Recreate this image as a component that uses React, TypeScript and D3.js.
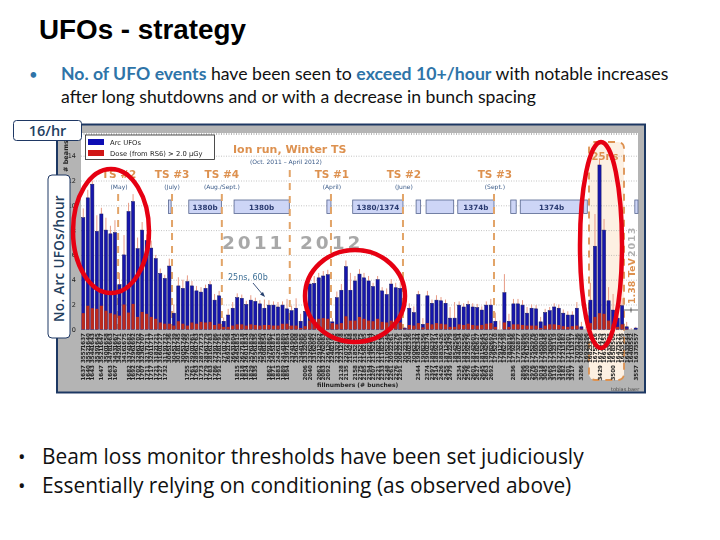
import React, { useEffect, useRef } from "react";
import * as d3 from "d3";

// values, one entry per fill
const arcUfos = [
  9.0, 10.6, 11.7, 7.9, 9.3, 8.0, 7.7, 7.8, 3.6, 6.0,
  9.5, 10.3, 6.5, 8.0, 7.15, 6.55, 5.7, 4.5, 4.1, 5.1,
  1.3, 3.5, 3.3, 3.85, 3.5, 3.1, 3.0, 3.3, 3.6, 2.35,
  2.7, 0.65, 1.15, 1.7, 2.55, 2.5, 2.0, 2.35, 2.25, 2.05,
  1.7, 1.95, 1.95, 1.8, 1.95, 1.65, 1.5, 1.7, 0.65, 1.45,
  3.65, 3.7, 4.15, 4.3, 4.4, 0.6, 2.55, 3.15, 5.05, 3.15,
  3.9, 4.45, 4.15, 3.9, 3.45, 4.0, 3.1, 2.8, 3.65, 3.35,
  3.3, 0.1, 1.7, 1.35, 2.8, 0.4, 2.7, 2.1, 2.35, 2.3,
  2.1, 0.9, 0.9, 1.95, 1.8, 2.0, 1.8, 1.75, 1.55, 1.95,
  1.95, 0.65, 0, 2.95, 0.65, 2.05, 2.05, 1.95, 1.3, 1.7,
  1.65, 0.6, 1.35, 1.5, 1.8, 1.7, 1.3, 1.15, 1.15, 1.7,
  0.2, 0, 2.35, 6.7, 13.25, 8.0, 2.3, 1.55, 0.9, 1.9,
  0.2, 0, 0.1,
];

const doseUfos = [
  1.3, 1.9, 1.7, 1.65, 1.9, 1.5, 1.3, 1.2, 1.1, 2.0,
  1.35, 2.05, 1.0, 1.4, 1.25, 1.0, 0.85, 0.55, 0.45, 0.45,
  0.3, 0.65, 0.45, 0.3, 0.55, 0.45, 0.6, 0.55, 0.6, 0.35,
  0.45, 0.2, 0.2, 0.3, 0.4, 0.4, 0.3, 0.4, 0.35, 0.3,
  0.35, 0.35, 0.3, 0.3, 0.45, 0.45, 0.3, 0.3, 0.1, 0.25,
  0.7, 0.8, 0.85, 0.9, 0.85, 0.5, 0.4, 0.5, 1.05, 0.7,
  0.7, 1.0, 0.85, 0.7, 0.65, 0.85, 0.6, 0.55, 0.7, 0.6,
  0.55, 0.05, 0.35, 0.3, 0.5, 0.15, 0.5, 0.4, 0.5, 0.45,
  0.4, 0.2, 0.2, 0.4, 0.35, 0.45, 0.35, 0.3, 0.35, 0.45,
  0.5, 0.2, 0, 0.55, 0.2, 0.4, 0.4, 0.35, 0.3, 0.3,
  0.3, 0.1, 0.3, 0.4, 0.4, 0.35, 0.25, 0.2, 0.25, 0.3,
  0.05, 0, 0.5, 1.0, 1.3, 1.25, 0.7, 0.4, 0.2, 0.4,
  0.05, 0, 0,
];

const errorUp = [
  0.75, 0.65, 0.3, 1.3, 0.5, 1.0, 0.65, 1.0, 0.95, 1.6,
  0.7, 0.6, 0.9, 0.65, 0.5, 0.6, 0.3, 0.4, 0.3, 0.6,
  0.7, 0.7, 0.7, 0.5, 0.4, 0.4, 0.4, 0.3, 0.3, 0.5,
  0.4, 0.3, 0.5, 0.5, 0.35, 0.3, 0.3, 0.4, 0.3, 0.3,
  0.7, 0.4, 0.3, 0.4, 0.3, 0.8, 0.4, 0.8, 0.6, 0.5,
  0.5, 0.6, 0.4, 0.4, 0.4, 0.3, 0.5, 0.5, 0.5, 1.4,
  0.4, 0.4, 0.4, 0.4, 0.3, 0.3, 0.3, 0.5, 0.4, 0.4,
  0.5, 0.1, 0.4, 0.5, 0.3, 0.5, 0.4, 0.3, 0.4, 0.3,
  0.3, 0.9, 1.3, 0.3, 0.3, 0.3, 0.3, 0.3, 0.3, 0.3,
  0.5, 0.7, 0.7, 1.5, 0.6, 0.4, 0.4, 0.4, 0.5, 0.3,
  0.3, 0.4, 0.3, 0.3, 0.3, 0.3, 0.3, 0.3, 0.3, 0.5,
  0.4, 0.2, 1.4, 2.6, 0.5, 0.9, 1.1, 1.3, 0.4, 0.6,
  0.4, 0.1, 0.1,
];

const fillNumbers = [
  "1637", "1640", "1643", "1645", "1647", "1658", "1663", "1667", "1671", "1675",
  "1682", "1692", "1702", "1707", "1711", "1717", "1721", "1727", "1732", "1736",
  "1739", "1745", "1749", "1755", "1761", "1763", "1773", "1779", "1783", "1786",
  "1791", "1795", "1798", "1804", "1815", "1818", "1824", "1829", "1835", "1840",
  "1854", "1862", "1871", "1883", "1889", "1894", "1900", "1908", "1985", "2006",
  "2040", "2052", "2062", "2083", "2092", "2105", "2118", "2128", "2135", "2148",
  "2158", "2175", "2185", "2194", "2207", "2221", "2233", "2248", "2261", "2276",
  "2291", "2316", "2326", "2332", "2344", "2356", "2374", "2397", "2414", "2426",
  "2455", "2479", "2508", "2534", "2556", "2576", "2601", "2627", "2645", "2663",
  "2692", "2710", "2728", "2739", "2816", "2836", "2877", "2896", "2920", "2976",
  "3005", "3018", "3045", "3065", "3119", "3160", "3182", "3201", "3217", "3236",
  "3286", "3296", "3374", "3416", "3429", "3453", "3478", "3500", "3521", "3539",
  "3544", "3552", "3557",
];
// fills that carry the extra label in the lower row
const lowerRowFills = [
  0, 1, 2, 4, 6, 7, 10, 11, 12, 13, 14, 15, 16, 17, 18, 23, 24, 25, 26, 27, 28, 29, 30,
  34, 35, 36, 37, 38, 41, 42, 43, 44, 45, 49, 50, 52, 53, 54, 57, 58,
  60, 61, 62, 63, 64, 65, 66, 67, 68, 69, 70, 74, 76, 77, 78, 79, 80, 81,
  83, 84, 85, 86, 87, 88, 89, 90, 95, 97, 98, 99, 100, 101, 102, 103, 104, 105, 106, 107, 108,
  110, 114, 117, 122,
];

const yTicks = [0, 2, 4, 6, 8, 10, 12, 14];

// positions along the axis are in fills, counted from the left of the plot
const shutdownFills = [8.2, 20.1, 31.1, 46.1, 55.2, 71.1, 91.2];
const tsLabels = [
  { name: "TS #2", sub: "(May)", at: 8.4 },
  { name: "TS #3", sub: "(July)", at: 20.1 },
  { name: "TS #4", sub: "(Aug./Sept.)", at: 31.1 },
  { name: "TS #1", sub: "(April)", at: 55.4 },
  { name: "TS #2", sub: "(June)", at: 71.3 },
  { name: "TS #3", sub: "(Sept.)", at: 91.4 },
];
const spacingBoxes = [
  { from: 19.3, to: 19.9, label: "" },
  { from: 23.8, to: 31.0, label: "1380b" },
  { from: 33.8, to: 46.0, label: "1380b" },
  { from: 54.3, to: 55.2, label: "" },
  { from: 60.0, to: 71.1, label: "1380/1374" },
  { from: 74.0, to: 75.0, label: "" },
  { from: 76.2, to: 82.3, label: "" },
  { from: 83.2, to: 91.2, label: "1374b" },
  { from: 94.9, to: 96.1, label: "" },
  { from: 97.0, to: 110.8, label: "1374b" },
  { from: 111.0, to: 111.8, label: "" },
  { from: 122.3, to: 123, label: "" },
];

const navy = "#1f3864";
const orange = "#dd9150";

export default function App() {
  const svgRef = useRef<SVGSVGElement>(null);

  useEffect(() => {
    if (!svgRef.current) return;
    const svg = d3.select(svgRef.current);
    svg.selectAll("*").remove();

    const plot = { left: 81, right: 638, top: 133, bottom: 329.3 };

    const x = d3.scaleBand<number>()
      .domain(d3.range(arcUfos.length))
      .range([plot.left, plot.right])
      .paddingInner(0.3)
      .paddingOuter(0.15);
    const xFill = d3.scaleLinear().domain([0, arcUfos.length]).range([plot.left, plot.right]);
    const y = d3.scaleLinear().domain([0, 14]).range([plot.bottom, plot.bottom - 14 * 12.4]);

    const text = (g: any, px: number, py: number, s: string, size: number, fill: string, family = "'DejaVu Sans'", weight = "normal") =>
      g.append("text")
        .attr("x", px).attr("y", py)
        .attr("font-family", family)
        .attr("font-size", size)
        .attr("font-weight", weight)
        .attr("fill", fill)
        .text(s);

    svg.append("rect").attr("width", 720).attr("height", 540).attr("fill", "#fff");

    // Title and top bullet
    text(svg, 39, 39, "UFOs - strategy", 27.8, "#000", "'Liberation Sans'", "bold");
    text(svg, 29, 80, "•", 15, "#2e74a8", "Lato");
    const line1 = text(svg, 61, 80, "", 17.65, "#111", "Lato");
    line1.append("tspan").attr("fill", "#2e74a8").attr("font-weight", "bold").text("No. of UFO events");
    line1.append("tspan").text(" have been seen to ");
    line1.append("tspan").attr("fill", "#2e74a8").attr("font-weight", "bold").text("exceed 10+/hour");
    line1.append("tspan").text(" with notable increases");
    text(svg, 61, 103, "after long shutdowns and or with a decrease in bunch spacing", 17.65, "#111", "Lato");

    // Screenshot of the chart, slightly soft like the slide
    const defs = svg.append("defs");
    defs.append("filter").attr("id", "soft")
      .append("feGaussianBlur").attr("stdDeviation", 0.35);
    const chart = svg.append("g").attr("filter", "url(#soft)");

    chart.append("rect")
      .attr("x", 57).attr("y", 124.5).attr("width", 588).attr("height", 268)
      .attr("fill", "#b4b4b4").attr("stroke", navy).attr("stroke-width", 2);
    chart.append("rect")
      .attr("x", plot.left).attr("y", plot.top)
      .attr("width", plot.right - plot.left).attr("height", plot.bottom - plot.top)
      .attr("fill", "#fff");

    // 25ns highlight sits under the bars
    chart.append("rect")
      .attr("x", 589).attr("y", 142).attr("width", 35).attr("height", 238).attr("rx", 6)
      .attr("fill", "#fdf0e2").attr("stroke", orange).attr("stroke-width", 1.8)
      .attr("stroke-dasharray", "7,6");

    // Grid
    const yAxis = d3.axisLeft(y).tickValues(yTicks).tickSize(plot.left - plot.right).tickFormat(d3.format("d"));
    const axisG = chart.append("g").attr("transform", `translate(${plot.left},0)`).call(yAxis as any);
    axisG.select(".domain").remove();
    axisG.selectAll("line").attr("stroke", "#9a9a9a").attr("stroke-width", 0.6).attr("stroke-dasharray", "1,1.5");
    axisG.selectAll("text")
      .attr("x", -5).attr("fill", "#222").attr("font-size", 6.5)
      .attr("font-family", "'DejaVu Sans'");
    chart.append("line")
      .attr("x1", plot.left).attr("x2", plot.right).attr("y1", plot.top + 1).attr("y2", plot.top + 1)
      .attr("stroke", "#777").attr("stroke-dasharray", "1,1.5");

    // Bunch spacing boxes
    const boxes = chart.append("g");
    boxes.selectAll("rect").data(spacingBoxes).enter().append("rect")
      .attr("x", d => xFill(d.from))
      .attr("width", d => xFill(d.to) - xFill(d.from))
      .attr("y", 200).attr("height", 13.5)
      .attr("fill", "#cdd5f6").attr("stroke", "#56658f").attr("stroke-width", 0.8);
    boxes.selectAll("text").data(spacingBoxes.filter(d => d.label)).enter().append("text")
      .attr("x", d => (xFill(d.from) + xFill(d.to)) / 2)
      .attr("y", 209.5)
      .attr("text-anchor", "middle")
      .attr("font-family", "'DejaVu Sans'").attr("font-size", 7.2).attr("font-weight", "bold")
      .attr("fill", "#2a3a70")
      .text(d => d.label);

    // Shutdown markers
    chart.selectAll(".ts").data(shutdownFills).enter().append("line")
      .attr("class", "ts")
      .attr("x1", d => xFill(d)).attr("x2", d => xFill(d))
      .attr("y1", (d, i) => (i === 3 ? 170 : 194)).attr("y2", plot.bottom)
      .attr("stroke", "#e2a468").attr("stroke-width", 2).attr("stroke-dasharray", "7,6");

    // Bars
    const idx = d3.range(arcUfos.length);
    const bw = x.bandwidth();
    chart.selectAll(".err").data(idx).enter().append("line")
      .attr("class", "err")
      .attr("x1", i => x(i)! + bw / 2).attr("x2", i => x(i)! + bw / 2)
      .attr("y1", i => y(arcUfos[i])).attr("y2", i => y(arcUfos[i] + errorUp[i]))
      .attr("stroke", "#e79c86").attr("stroke-width", 1);
    chart.selectAll(".arc").data(idx).enter().append("rect")
      .attr("class", "arc")
      .attr("x", i => x(i)!).attr("width", bw)
      .attr("y", i => y(arcUfos[i]))
      .attr("height", i => plot.bottom - y(arcUfos[i]))
      .attr("fill", "#1515ac").attr("stroke", "#14145e").attr("stroke-width", 0.5);
    chart.selectAll(".dose").data(idx).enter().append("rect")
      .attr("class", "dose")
      .attr("x", i => x(i)!).attr("width", bw)
      .attr("y", i => y(doseUfos[i]))
      .attr("height", i => plot.bottom - y(doseUfos[i]))
      .attr("fill", "#bd2a1e");

    // Fill number rows under the axis
    const rows = [
      { top: 333, label: (i: number) => fillNumbers[i], data: idx },
      { top: 347.5, label: (i: number) => fillNumbers[arcUfos.length - 1 - i], data: idx },
      { top: 365, label: (i: number) => fillNumbers[i], data: lowerRowFills },
    ];
    rows.forEach(row => {
      chart.append("g").selectAll("text").data(row.data).enter().append("text")
        .attr("transform", i => `translate(${x(i)! + bw / 2 + 2},${row.top}) rotate(-90)`)
        .attr("text-anchor", "end")
        .attr("font-family", "'DejaVu Sans'").attr("font-size", 5.6).attr("font-weight", "bold")
        .attr("fill", "#222")
        .text(row.label);
    });

    // Legend
    chart.append("rect")
      .attr("x", 85.5).attr("y", 135).attr("width", 129).attr("height", 24.5)
      .attr("fill", "#fff").attr("stroke", "#222").attr("stroke-width", 0.8);
    chart.append("rect").attr("x", 88).attr("y", 139).attr("width", 16).attr("height", 6).attr("fill", "#0a0ab4");
    chart.append("rect").attr("x", 88).attr("y", 150).attr("width", 16).attr("height", 6).attr("fill", "#d01818");
    text(chart, 110, 144.5, "Arc UFOs", 6.8, "#222");
    text(chart, 110, 155.5, "Dose (from RS6) > 2.0 μGy", 6.8, "#222");

    // Annotations on the plot
    text(chart, 233, 153, "Ion run, Winter TS", 11, orange, "'DejaVu Sans'", "bold");
    text(chart, 250, 164, "(Oct. 2011 – April 2012)", 6, "#3a5a88");
    tsLabels.forEach(t => {
      text(chart, xFill(t.at), 178, t.name, 10.5, orange, "'DejaVu Sans'", "bold").attr("text-anchor", "middle");
      text(chart, xFill(t.at), 189, t.sub, 6, "#3a5a88").attr("text-anchor", "middle");
    });
    text(chart, 222, 249, "2011", 18.5, "#a8a8a8", "'DejaVu Sans'", "bold").attr("letter-spacing", 3);
    text(chart, 300, 249, "2012", 18.5, "#a8a8a8", "'DejaVu Sans'", "bold").attr("letter-spacing", 3);
    text(chart, 228, 280, "25ns, 60b", 8, "#3f7097");
    chart.append("line").attr("x1", 253).attr("y1", 283).attr("x2", 263).attr("y2", 295)
      .attr("stroke", "#26406e").attr("stroke-width", 0.9);
    chart.append("path").attr("d", "M265,297 L260,294.5 L263,292 Z").attr("fill", "#26406e");
    text(chart, 605, 160, "25ns", 10, orange, "'DejaVu Sans'", "bold").attr("text-anchor", "middle");
    text(chart, 0, 0, "2013", 9.5, "#b0b0b0", "'DejaVu Sans'", "bold")
      .attr("transform", "translate(635,257) rotate(-90)").attr("letter-spacing", 1);
    text(chart, 0, 0, "1.38 TeV", 9.5, orange, "'DejaVu Sans'", "bold")
      .attr("transform", "translate(635,304) rotate(-90)");
    chart.append("path").attr("d", "M624,310 H638 M631,307.5 V312.5").attr("stroke", "#222").attr("stroke-width", 0.7).attr("fill", "none");
    text(chart, 611, 391, "tobias.baer", 5, "#444");
    text(chart, 317, 387, "fillnumbers (# bunches)", 6, "#222", "'DejaVu Sans'", "bold");
    text(chart, 0, 0, "# beams", 6.5, "#222", "'DejaVu Sans'", "bold")
      .attr("transform", "translate(68,172) rotate(-90)");

    // Red ellipses drawn over the slide
    const rings = [
      { cx: 111, cy: 231, rx: 38, ry: 62 },
      { cx: 355, cy: 296, rx: 50, ry: 46 },
      { cx: 601, cy: 245, rx: 21, ry: 103 },
    ];
    svg.append("g").selectAll("ellipse").data(rings).enter().append("ellipse")
      .attr("cx", d => d.cx).attr("cy", d => d.cy).attr("rx", d => d.rx).attr("ry", d => d.ry)
      .attr("fill", "none").attr("stroke", "#e60012").attr("stroke-width", 4.5);

    // Callouts
    svg.append("rect")
      .attr("x", 13.5).attr("y", 120.5).attr("width", 68).attr("height", 20).attr("rx", 3)
      .attr("fill", "#fff").attr("stroke", navy).attr("stroke-width", 1);
    text(svg, 47.5, 136, "16/hr", 14.5, "#24405f", "'Open Sans'", "600").attr("text-anchor", "middle");
    svg.append("rect")
      .attr("x", 48).attr("y", 175).attr("width", 22).attr("height", 163).attr("rx", 4)
      .attr("fill", "#fff").attr("stroke", navy).attr("stroke-width", 1);
    text(svg, 0, 0, "No. Arc UFOs/hour", 13.5, "#24405f", "'Open Sans'", "600")
      .attr("transform", "translate(64,322) rotate(-90)").attr("letter-spacing", 0.3);

    // Bottom bullets
    text(svg, 18, 464, "•", 20, "#111", "'Open Sans'");
    text(svg, 42, 464, "Beam loss monitor thresholds have been set judiciously", 20.9, "#111", "'Open Sans'");
    text(svg, 18, 493, "•", 20, "#111", "'Open Sans'");
    text(svg, 42, 493, "Essentially relying on conditioning (as observed above)", 20.9, "#111", "'Open Sans'");
  }, []);

  return (
    <svg
      ref={svgRef}
      width={720}
      height={540}
      style={{ position: "absolute", left: 0, top: 0, display: "block" }}
    />
  );
}
